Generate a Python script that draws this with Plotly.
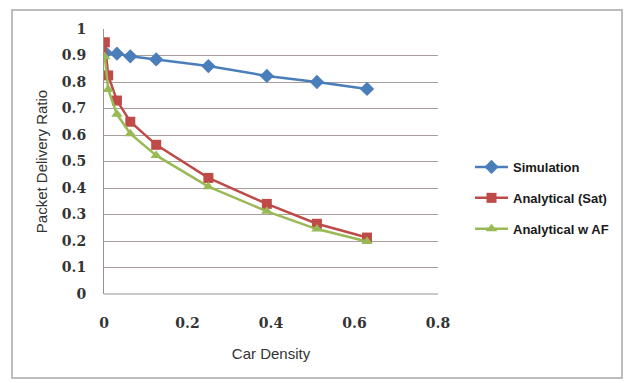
import plotly.graph_objects as go

# Car density values for each series
sim_x = [0.004, 0.031, 0.063, 0.125, 0.25, 0.39, 0.51, 0.63]
sim_y = [0.91, 0.907, 0.897, 0.885, 0.86, 0.823, 0.80, 0.774]

sat_x = [0.002, 0.01, 0.031, 0.063, 0.125, 0.25, 0.39, 0.51, 0.63]
sat_y = [0.95, 0.825, 0.73, 0.65, 0.563, 0.438, 0.34, 0.265, 0.213]

af_x = [0.002, 0.01, 0.031, 0.063, 0.125, 0.25, 0.39, 0.51, 0.63]
af_y = [0.895, 0.772, 0.678, 0.605, 0.523, 0.405, 0.312, 0.245, 0.198]

series_names = ["Simulation", "Analytical (Sat)", "Analytical w AF"]
x_ticks = [0, 0.2, 0.4, 0.6, 0.8]
y_ticks = [0, 0.1, 0.2, 0.3, 0.4, 0.5, 0.6, 0.7, 0.8, 0.9, 1]

fig = go.Figure()
fig.add_trace(go.Scatter(x=sim_x, y=sim_y, name=series_names[0], mode="lines+markers",
                         legendgroup="a",
                         line=dict(color="#4a7ebb", width=2.5),
                         marker=dict(symbol="diamond", size=11, color="#4a7ebb")))
fig.add_trace(go.Scatter(x=sat_x, y=sat_y, name=series_names[1], mode="lines+markers",
                         legendgroup="b",
                         line=dict(color="#be4b48", width=2.5),
                         marker=dict(symbol="square", size=10, color="#be4b48")))
fig.add_trace(go.Scatter(x=af_x, y=af_y, name=series_names[2], mode="lines+markers",
                         legendgroup="c",
                         line=dict(color="#98b954", width=2.5),
                         marker=dict(symbol="triangle-up", size=10, color="#98b954")))

L, R, T, B = 104, 438, 29, 294
W, H = 637, 383
pw, ph = R - L, B - T

def px(x):
    return (x - L) / pw

def py(y):
    return (B - y) / ph

fig.add_shape(type="rect", xref="paper", yref="paper",
              x0=px(12), x1=px(622), y0=py(378), y1=py(10),
              line=dict(color="#a8a8a8", width=1.5), layer="below")

fig.update_layout(
    width=W, height=H,
    margin=dict(l=L, r=W - R, t=T, b=H - B),
    paper_bgcolor="white", plot_bgcolor="white",
    showlegend=True,
    legend=dict(x=px(470), y=py(152), xanchor="left", yanchor="top",
                font=dict(family="Liberation Sans", size=13, color="#1a1a1a", weight="bold"),
                tracegroupgap=11, itemwidth=33, bgcolor="rgba(0,0,0,0)"),
    xaxis=dict(range=[0, 0.8], tickvals=x_ticks, ticktext=["0", "0.2", "0.4", "0.6", "0.8"],
               showgrid=False, zeroline=False, showline=False,
               ticks="", ticklabelstandoff=19,
               tickfont=dict(family="DejaVu Serif", size=14, color="#333333", weight="bold"),
               title=dict(text="Car Density", standoff=18,
                          font=dict(family="Liberation Sans", size=15, color="#333333"))),
    yaxis=dict(range=[0, 1], tickvals=y_ticks,
               ticktext=["0", "0.1", "0.2", "0.3", "0.4", "0.5", "0.6", "0.7", "0.8", "0.9", "1"],
               showgrid=True, gridcolor="#a89e9e", gridwidth=1,
               zeroline=False, showline=True, linecolor="#9a9090", linewidth=1,
               ticks="", ticklabelstandoff=14,
               tickfont=dict(family="DejaVu Serif", size=14, color="#333333", weight="bold"),
               title=dict(text="Packet Delivery Ratio", standoff=10,
                          font=dict(family="Liberation Sans", size=15, color="#333333"))),
)
fig.add_shape(type="line", xref="paper", yref="paper", x0=0, x1=1, y0=0, y1=0,
              line=dict(color="#9a9090", width=1), layer="below")

fig.write_html("out.html")
